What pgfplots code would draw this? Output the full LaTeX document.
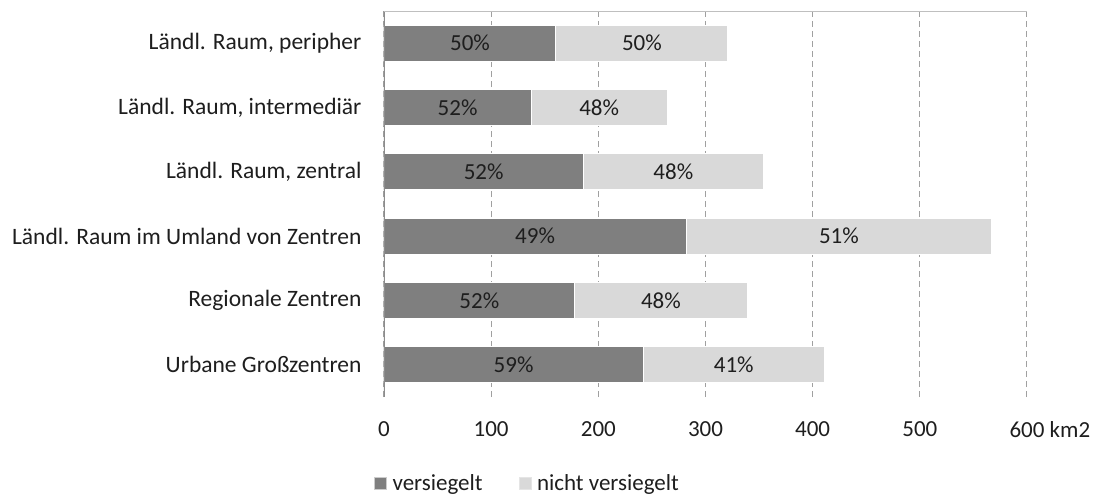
\documentclass[border=0pt]{standalone}
\usepackage{pgfplots}
\pgfplotsset{compat=1.18}
\usepackage{fontspec}
\setmainfont{Carlito}
\definecolor{dark}{HTML}{7F7F7F}
\definecolor{light}{HTML}{D9D9D9}
\definecolor{gridc}{HTML}{A0A0A0}
\definecolor{txt}{HTML}{1E1E1E}
\begin{document}
\begin{tikzpicture}[x=1pt,y=1pt]
\path[use as bounding box] (-384,-104) rectangle (717,397);
\begin{axis}[
 at={(0,0)}, anchor=south west,
 scale only axis, width=643pt, height=386pt,
 xmin=0, xmax=600, ymin=-0.5, ymax=5.5,
 xtick={0,100,...,600},
 xticklabels={0,100,200,300,400,500,{600\rlap{ km2}}},
 ytick={0,...,5},
 yticklabels={Urbane Großzentren, Regionale Zentren, Ländl. Raum im Umland von Zentren, {Ländl. Raum, zentral}, {Ländl. Raum, intermediär}, {Ländl. Raum, peripher}},
 axis line style={draw=none},
 major tick style={draw=none},
 xmajorgrids, grid style={gridc, dash pattern=on 6pt off 4pt, line width=1pt},
 ticklabel style={text=txt},
 xticklabel style={font=\fontsize{23}{27}\selectfont, yshift=-21pt},
 yticklabel style={font=\fontsize{23.5}{27}\selectfont, xshift=-19pt},
 legend style={at={(axis description cs:-0.0202,-0.2228)}, anchor=west, draw=none, fill=none,
   legend columns=2, font=\fontsize{23}{27}\selectfont, text=txt,
   /tikz/every even column/.append style={column sep=34pt},
   /tikz/every odd column/.append style={column sep=4pt}},
 legend image code/.code={\draw[#1] (0pt,-6pt) rectangle (12pt,6pt);},
]
\addplot[xbar, bar shift=0pt, bar width=36pt, fill=light, draw=white, line width=1pt, forget plot]
 coordinates {(411,0) (339,1) (567,2) (354,3) (264.2,4) (320.9,5)};
\addplot[xbar, bar shift=0pt, bar width=36pt, fill=dark, draw=white, line width=1pt, forget plot]
 coordinates {(241.8,0) (177.9,1) (282,2) (186,3) (137.4,4) (160.5,5)};
\addplot[only marks, mark=none, forget plot, point meta=explicit symbolic,
  nodes near coords,
  every node near coord/.style={anchor=center, font=\fontsize{23}{27}\selectfont, text=txt}]
 coordinates {(120.9,0)[59\%] (88.95,1)[52\%] (141,2)[49\%] (93,3)[52\%] (68.7,4)[52\%] (80.25,5)[50\%]
  (326.4,0)[41\%] (258.45,1)[48\%] (424.5,2)[51\%] (270,3)[48\%] (200.8,4)[48\%] (240.7,5)[50\%]};
\draw[black!45, line width=1.5pt] (axis cs:0,-0.5) -- (axis cs:0,5.5);
\draw[black!25, line width=1pt] (axis cs:0,5.5) -- (axis cs:600,5.5);
\addlegendimage{fill=dark, draw=black!20}
\addlegendentry{versiegelt}
\addlegendimage{fill=light, draw=black!10}
\addlegendentry{nicht versiegelt}
\end{axis}
\end{tikzpicture}
\end{document}
